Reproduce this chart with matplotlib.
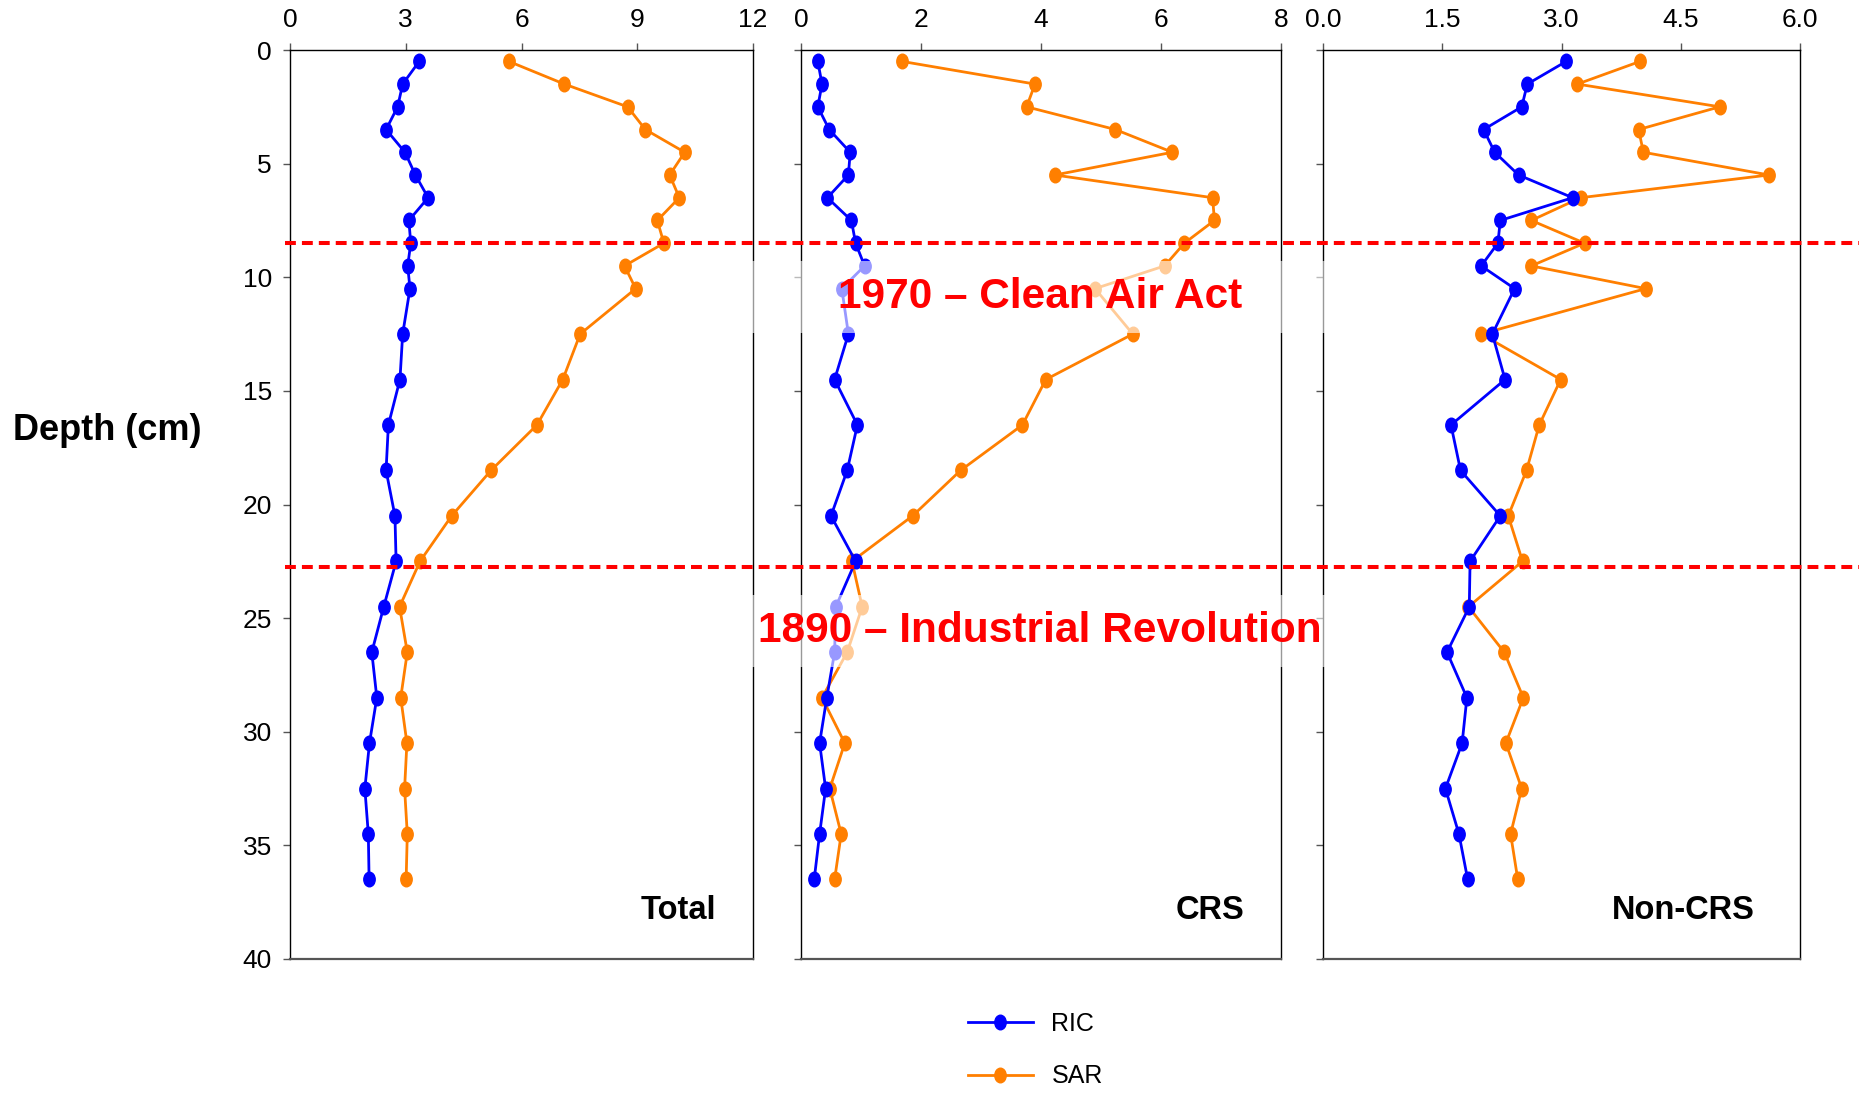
import matplotlib.pyplot as plt
from matplotlib.path import Path
from matplotlib.transforms import Affine2D
from matplotlib.patches import Rectangle

plt.rcParams['font.family'] = ['Liberation Sans', 'DejaVu Sans']

# sample mid-depths (cm)
depth = [0.5, 1.5, 2.5, 3.5, 4.5, 5.5, 6.5, 7.5, 8.5, 9.5, 10.5,
         12.5, 14.5, 16.5, 18.5, 20.5, 22.5, 24.5, 26.5, 28.5, 30.5,
         32.5, 34.5, 36.5]

ric_total = [3.35, 2.92, 2.79, 2.49, 2.98, 3.25, 3.58, 3.08, 3.13, 3.05, 3.11,
             2.92, 2.85, 2.55, 2.49, 2.72, 2.75, 2.43, 2.12, 2.25, 2.06,
             1.94, 2.03, 2.05]
sar_total = [5.67, 7.11, 8.75, 9.21, 10.23, 9.84, 10.09, 9.52, 9.69, 8.67, 8.96,
             7.52, 7.07, 6.40, 5.21, 4.19, 3.37, 2.84, 3.04, 2.87, 3.03,
             2.97, 3.04, 3.01]

ric_crs = [0.28, 0.35, 0.28, 0.47, 0.82, 0.79, 0.44, 0.84, 0.91, 1.06, 0.68,
           0.79, 0.56, 0.94, 0.77, 0.50, 0.91, 0.58, 0.56, 0.43, 0.31,
           0.41, 0.31, 0.22]
sar_crs = [1.68, 3.90, 3.76, 5.24, 6.19, 4.23, 6.86, 6.89, 6.39, 6.06, 4.90,
           5.53, 4.08, 3.69, 2.66, 1.86, 0.85, 1.02, 0.77, 0.35, 0.73,
           0.48, 0.67, 0.56]

ric_noncrs = [3.06, 2.57, 2.50, 2.02, 2.16, 2.46, 3.14, 2.23, 2.20, 1.99, 2.41,
              2.13, 2.29, 1.61, 1.73, 2.23, 1.85, 1.84, 1.56, 1.81, 1.75,
              1.54, 1.71, 1.82]
sar_noncrs = [3.99, 3.20, 4.99, 3.97, 4.03, 5.61, 3.24, 2.62, 3.29, 2.62, 4.06,
              1.99, 2.99, 2.72, 2.56, 2.33, 2.51, 1.83, 2.28, 2.52, 2.30,
              2.50, 2.36, 2.45]

panel_names = ['Total', 'CRS', 'Non-CRS']
name_x = [0.92, 0.923, 0.906]
x_limits = [12, 8, 6]
x_ticks = [[0, 3, 6, 9, 12], [0, 2, 4, 6, 8], [0, 1.5, 3, 4.5, 6]]
x_ticklabels = [['0', '3', '6', '9', '12'], ['0', '2', '4', '6', '8'],
                ['0.0', '1.5', '3.0', '4.5', '6.0']]
ric_series = [ric_total, ric_crs, ric_noncrs]
sar_series = [sar_total, sar_crs, sar_noncrs]

event_depths = [8.5, 22.75]
event_labels = ['1970 \u2013 Clean Air Act', '1890 \u2013 Industrial Revolution']
label_depths = [10.85, 25.55]

W, H = 1872, 1096
fig = plt.figure(figsize=(W / 100, H / 100), dpi=100)

# axes boxes in pixels: left, right
boxes = [(290, 753), (801, 1281), (1323, 1800)]
top_px, bot_px = 50, 959

# slightly tall ellipse marker
ellipse = Path.unit_circle().transformed(Affine2D().scale(0.78, 1.0))

blue = '#0000FF'
orange = '#FF7F00'

axes = []
for i, (l, r) in enumerate(boxes):
    ax = fig.add_axes([l / W, 1 - bot_px / H, (r - l) / W, (bot_px - top_px) / H])
    axes.append(ax)
    ax.plot(ric_series[i], depth, color=blue, lw=2, marker=ellipse,
            markersize=10.5, label='RIC', zorder=3)
    ax.plot(sar_series[i], depth, color=orange, lw=2, marker=ellipse,
            markersize=10.5, label='SAR', zorder=2)
    ax.set_xlim(0, x_limits[i])
    ax.set_ylim(40, 0)
    ax.set_xticks(x_ticks[i])
    ax.set_xticklabels(x_ticklabels[i])
    ax.set_yticks(range(0, 41, 5))
    ax.xaxis.tick_top()
    ax.tick_params(axis='both', direction='out', length=5, width=1,
                   color='#555555', labelsize=19, pad=8)
    if i > 0:
        ax.tick_params(axis='y', labelleft=False)
    for side in ['top', 'right', 'left']:
        ax.spines[side].set_color('black')
        ax.spines[side].set_linewidth(1.0)
    ax.spines['bottom'].set_color('#555555')
    ax.spines['bottom'].set_linewidth(1.6)
    ax.text(name_x[i], 0.053, panel_names[i], transform=ax.transAxes,
            ha='right', va='center', fontsize=23.5, fontweight='bold')

# event lines across all panels
for d in event_depths:
    yf = 1 - (top_px + d / 40 * (bot_px - top_px)) / H
    fig.add_artist(plt.Line2D([285 / W, 1859 / W], [yf, yf], color='#FF0000',
                              lw=2.9, linestyle='--', dashes=(2.7, 1.5),
                              transform=fig.transFigure, zorder=4))

# event labels on a washed-out band
for d, txt in zip(label_depths, event_labels):
    yc = top_px + d / 40 * (bot_px - top_px)
    fig.add_artist(Rectangle((745 / W, 1 - (yc + 36) / H), 590 / W, 72 / H,
                             transform=fig.transFigure, facecolor='white',
                             edgecolor='none', alpha=0.6, zorder=5))
    fig.text(1040 / W, 1 - yc / H, txt, ha='center', va='center', fontsize=30.5,
             fontweight='bold', color='#FF0000', zorder=6)

fig.text(107 / W, 1 - 430 / H, 'Depth (cm)', ha='center', va='center',
         fontsize=26, fontweight='bold')

handles, labels = axes[0].get_legend_handles_labels()
fig.legend(handles, labels, loc='center', bbox_to_anchor=(0.553, 0.042),
           frameon=False, fontsize=18, handlelength=2.6, handletextpad=0.75,
           labelspacing=1.15)

fig.savefig('out.png', dpi=100)
